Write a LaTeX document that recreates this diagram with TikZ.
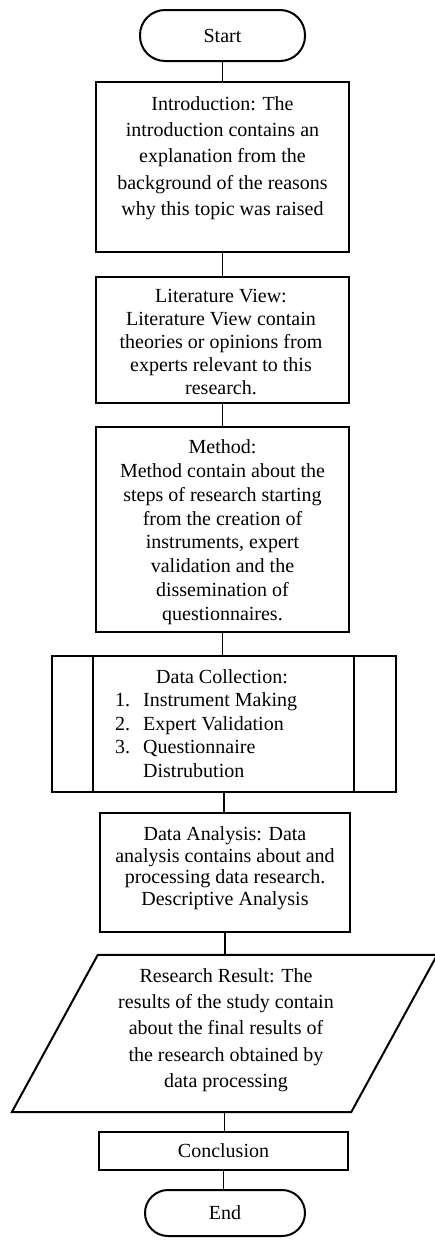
\documentclass[tikz,border=0pt]{standalone}
\usepackage{fontspec}
\setmainfont{Liberation Serif}
\begin{document}
\begin{tikzpicture}[x=1pt,y=-1pt,
  box/.style={draw, line width=2pt, inner sep=0pt, font=\fontsize{20}{24}\selectfont},
  term/.style={box, rounded corners=#1},
  conn/.style={line width=1.3pt},
  txt/.style={inner sep=0pt, align=center, anchor=north, font=\fontsize{20}{#1}\selectfont},
  ltxt/.style={inner sep=0pt, align=left, anchor=north west, font=\fontsize{20}{#1}\selectfont},
]
\clip (0,0) rectangle (435,1240);
\fill[white] (0,0) rectangle (435,1240);

% boxes
\node[term=25pt, minimum width=165pt, minimum height=51pt] (start) at (222.5,35.5) {Start};
\node[box, minimum width=253pt, minimum height=170pt] (intro) at (222.5,167) {};
\node[box, minimum width=253pt, minimum height=126pt] (lit) at (222.5,340) {};
\node[box, minimum width=253pt, minimum height=205pt] (method) at (222.5,529.5) {};
\node[box, minimum width=344pt, minimum height=136pt] (dc) at (224,724) {};
\draw[line width=2pt] ([xshift=42pt]dc.north west) -- ([xshift=42pt]dc.south west);
\draw[line width=2pt] ([xshift=-43pt]dc.north east) -- ([xshift=-43pt]dc.south east);
\node[box, minimum width=250pt, minimum height=119pt] (da) at (225,872.5) {};
\node[inner sep=0pt, minimum width=339pt, minimum height=157pt] (rr) at (224.5,1033.5) {};
\draw[line width=2pt, line join=miter]
  ([xshift=43pt]rr.north west) -- ([xshift=43pt]rr.north east)
  -- ([xshift=-43pt]rr.south east) -- ([xshift=-43pt]rr.south west) -- cycle;
\node[box, minimum width=249pt, minimum height=38pt] (conc) at (223.5,1151) {Conclusion};
\node[term=23pt, minimum width=160pt, minimum height=46pt] (end) at (225,1213) {End};

% texts
\node[txt=26.3] (introt) at (222.5,96.3) {Introduction: The\\introduction contains an\\explanation from the\\background of the reasons\\why this topic was raised};
\node[txt=23] (litt) at (221,289.3) {Literature View:\\Literature View contain\\theories or opinions from\\experts relevant to this\\research.};
\node[txt=23.9] (methodt) at (222.5,439.3) {Method:\\Method contain about the\\steps of research starting\\from the creation of\\instruments, expert\\validation and the\\dissemination of\\questionnaires.};
\node[ltxt=23.5] (dct) at (115,669.3) {\hspace*{41pt}Data Collection:\\\makebox[28pt][l]{1.}Instrument Making\\\makebox[28pt][l]{2.}Expert Validation\\\makebox[28pt][l]{3.}Questionnaire\\\hspace*{28pt}Distrubution};
\node[txt=21.7] (dat) at (225,826.3) {Data Analysis: Data\\analysis contains about and\\processing data research.\\Descriptive Analysis};
\node[txt=26.3] (rrt) at (226,968.3) {Research Result: The\\results of the study contain\\about the final results of\\the research obtained by\\data processing};

% connectors
\draw[conn] (start.south) -- (start.south |- intro.north);
\draw[conn] (intro.south) -- (intro.south |- lit.north);
\draw[conn] (lit.south) -- (lit.south |- method.north);
\draw[conn] (method.south) -- (method.south |- dc.north);
\draw[conn] (dc.south) -- (dc.south |- da.north);
\draw[conn] (da.south) -- (da.south |- rr.north);
\draw[conn] (rr.south) -- (rr.south |- conc.north);
\draw[conn] (conc.south) -- (conc.south |- end.north);
\end{tikzpicture}
\end{document}
